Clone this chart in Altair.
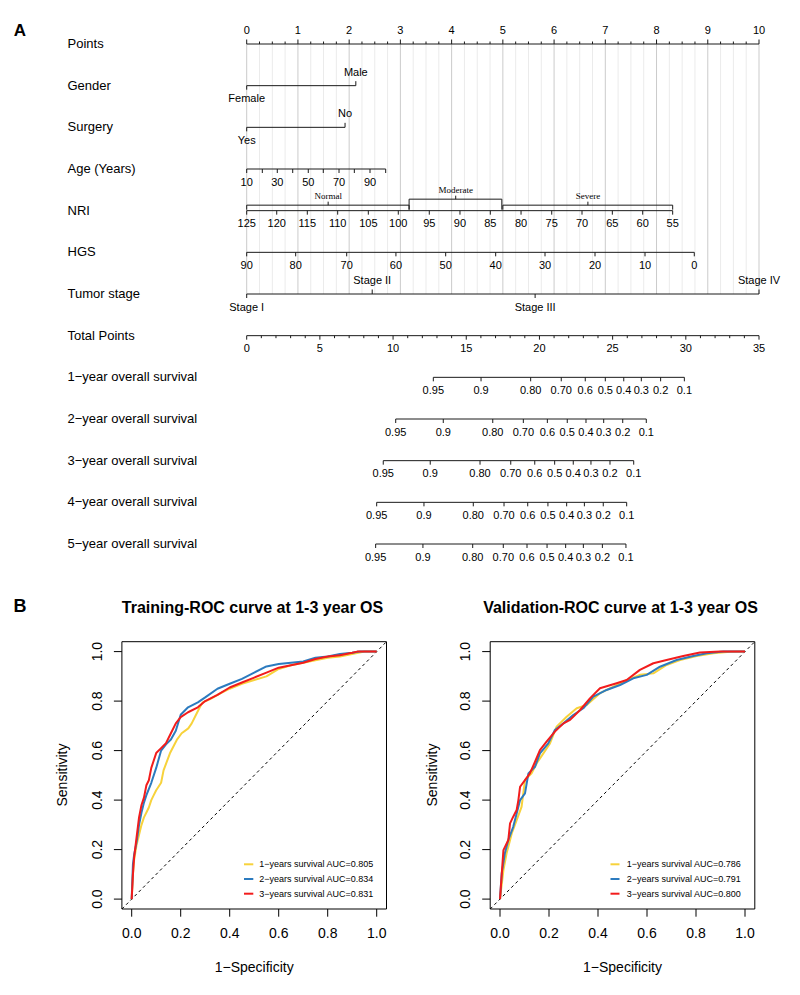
import altair as alt
import pandas as pd

SANS = "Liberation Sans, Arial, Helvetica, sans-serif"
SERIF = "Liberation Serif, Times New Roman, serif"
INK = "#1a1a1a"

# ======================= Panel A : nomogram values =======================
row_names = ["Points", "Gender", "Surgery", "Age (Years)", "NRI", "HGS", "Tumor stage",
             "Total Points", "1−year overall survival", "2−year overall survival",
             "3−year overall survival", "4−year overall survival", "5−year overall survival"]

points_ticks = [i / 4 for i in range(41)]          # axis ticks 0 .. 10 every 0.25
gender_levels = ["Female", "Male"]
gender_pts = [0.0, 2.13]
gender_side = ["down", "up"]
surgery_levels = ["Yes", "No"]
surgery_pts = [0.0, 1.92]
surgery_side = ["down", "up"]
age_values = [10, 20, 30, 40, 50, 60, 70, 80, 90, 100]
age_pts = [0.0, 0.305, 0.597, 0.898, 1.202, 1.495, 1.802, 2.101, 2.407, 2.713]
age_labelled = [10, 30, 50, 70, 90]
nri_values = [125, 120, 115, 110, 105, 100, 95, 90, 85, 80, 75, 70, 65, 60, 55]
nri_pts = [0.0, 0.586, 1.183, 1.776, 2.374, 2.959, 3.564, 4.163, 4.755, 5.355,
           5.954, 6.545, 7.137, 7.730, 8.315]
nri_groups = ["Normal", "Moderate", "Severe"]
nri_group_from = [0.0, 3.17, 5.00]
nri_group_to = [3.17, 4.98, 8.315]
nri_group_mid = [1.59, 4.08, 6.66]
hgs_values = [90, 80, 70, 60, 50, 40, 30, 20, 10, 0]
hgs_pts = [0.0, 0.956, 1.952, 2.913, 3.884, 4.860, 5.823, 6.799, 7.775, 8.737]
stage_levels = ["Stage I", "Stage II", "Stage III", "Stage IV"]
stage_pts = [0.0, 2.45, 5.63, 10.0]
stage_side = ["down", "up", "down", "up"]

total_ticks = list(range(36))
total_labelled = [0, 5, 10, 15, 20, 25, 30, 35]
surv_labels = ["0.95", "0.9", "0.80", "0.70", "0.6", "0.5", "0.4", "0.3", "0.2", "0.1"]
surv_1y = [12.75, 16.01, 19.40, 21.49, 23.13, 24.50, 25.76, 26.96, 28.28, 29.90]
surv_2y = [10.18, 13.43, 16.81, 18.90, 20.54, 21.90, 23.18, 24.39, 25.69, 27.30]
surv_3y = [9.33, 12.54, 15.94, 18.04, 19.68, 21.04, 22.31, 23.52, 24.82, 26.44]
surv_4y = [8.88, 12.11, 15.48, 17.58, 19.20, 20.58, 21.86, 23.07, 24.36, 25.96]
surv_5y = [8.81, 12.04, 15.44, 17.53, 19.15, 20.52, 21.79, 23.00, 24.30, 25.91]

# ======================= Panel B : ROC values =======================
series_names = ["1-year", "2-year", "3-year"]
series_colors = ["#F7D23B", "#2C7BBF", "#F21C1C"]

tr1_fpr = [0, 0.005, 0.01, 0.02, 0.03, 0.04, 0.05, 0.06, 0.07, 0.08, 0.09, 0.10, 0.12, 0.13,
           0.156, 0.184, 0.204, 0.231, 0.245, 0.265, 0.279, 0.29, 0.32, 0.36, 0.40, 0.45,
           0.50, 0.55, 0.60, 0.65, 0.70, 0.75, 0.80, 0.85, 0.90, 0.95, 1.0]
tr1_tpr = [0, 0.10, 0.16, 0.22, 0.26, 0.30, 0.33, 0.35, 0.37, 0.40, 0.42, 0.44, 0.47, 0.52,
           0.589, 0.643, 0.67, 0.69, 0.71, 0.75, 0.777, 0.795, 0.808, 0.83, 0.85, 0.87,
           0.885, 0.90, 0.93, 0.945, 0.955, 0.965, 0.975, 0.98, 0.99, 1.0, 1.0]
tr2_fpr = [0, 0.005, 0.01, 0.02, 0.03, 0.04, 0.05, 0.06, 0.08, 0.10, 0.12, 0.14, 0.16, 0.18,
           0.20, 0.23, 0.27, 0.30, 0.35, 0.40, 0.45, 0.50, 0.55, 0.60, 0.65, 0.70, 0.75,
           0.80, 0.85, 0.90, 0.93, 1.0]
tr2_tpr = [0, 0.14, 0.18, 0.23, 0.30, 0.35, 0.39, 0.42, 0.47, 0.53, 0.60, 0.625, 0.645, 0.68,
           0.745, 0.775, 0.795, 0.815, 0.85, 0.87, 0.89, 0.915, 0.94, 0.95, 0.955, 0.96,
           0.975, 0.98, 0.99, 0.995, 1.0, 1.0]
tr3_fpr = [0, 0.005, 0.01, 0.02, 0.03, 0.04, 0.05, 0.06, 0.07, 0.08, 0.10, 0.12, 0.14, 0.16,
           0.18, 0.20, 0.23, 0.27, 0.30, 0.35, 0.40, 0.45, 0.50, 0.55, 0.60, 0.65, 0.70,
           0.75, 0.80, 0.85, 0.90, 0.92, 1.0]
tr3_tpr = [0, 0.10, 0.17, 0.25, 0.33, 0.38, 0.41, 0.46, 0.48, 0.53, 0.59, 0.61, 0.63, 0.67,
           0.71, 0.735, 0.755, 0.775, 0.80, 0.825, 0.855, 0.875, 0.895, 0.915, 0.935, 0.945,
           0.955, 0.97, 0.98, 0.985, 0.995, 1.0, 1.0]

va1_fpr = [0, 0.014, 0.027, 0.048, 0.068, 0.088, 0.102, 0.129, 0.150, 0.177, 0.204, 0.231,
           0.272, 0.313, 0.354, 0.408, 0.463, 0.517, 0.571, 0.626, 0.680, 0.735, 0.803,
           0.871, 0.939, 1.0]
va1_tpr = [0, 0.117, 0.185, 0.265, 0.319, 0.373, 0.481, 0.508, 0.549, 0.589, 0.629, 0.697,
           0.737, 0.771, 0.784, 0.832, 0.858, 0.885, 0.906, 0.912, 0.946, 0.966, 0.982,
           0.993, 0.999, 1.0]
va2_fpr = [0, 0.007, 0.02, 0.034, 0.054, 0.068, 0.082, 0.102, 0.116, 0.143, 0.163, 0.197,
           0.224, 0.259, 0.299, 0.340, 0.381, 0.435, 0.490, 0.544, 0.599, 0.653, 0.721,
           0.789, 0.844, 0.912, 1.0]
va2_tpr = [0, 0.104, 0.185, 0.239, 0.292, 0.346, 0.40, 0.427, 0.508, 0.535, 0.589, 0.629,
           0.683, 0.71, 0.744, 0.771, 0.818, 0.845, 0.865, 0.892, 0.906, 0.939, 0.966,
           0.982, 0.993, 1.0, 1.0]
va3_fpr = [0, 0.007, 0.014, 0.034, 0.041, 0.054, 0.068, 0.075, 0.082, 0.102, 0.122, 0.143,
           0.163, 0.190, 0.224, 0.259, 0.286, 0.327, 0.367, 0.408, 0.476, 0.517, 0.571,
           0.626, 0.680, 0.748, 0.816, 0.898, 1.0]
va3_tpr = [0, 0.10, 0.198, 0.239, 0.306, 0.333, 0.36, 0.40, 0.454, 0.481, 0.508, 0.555,
           0.602, 0.636, 0.677, 0.71, 0.724, 0.764, 0.811, 0.852, 0.872, 0.885, 0.926,
           0.953, 0.966, 0.982, 0.996, 1.0, 1.0]

train_auc = ["0.805", "0.834", "0.831"]
valid_auc = ["0.786", "0.791", "0.800"]
roc_lim = [-0.04, 1.04]
roc_ticks = [0.0, 0.2, 0.4, 0.6, 0.8, 1.0]
roc_tick_labels = ["0.0", "0.2", "0.4", "0.6", "0.8", "1.0"]


# ======================= layout helpers (page px -> chart px) =======================
def px(v):
    return v - 8


ROW_DOM, ROW_RNG = [0, 12], [px(44), px(544)]
PTS_DOM, TP_DOM = [0, 10], [0, 35]
NOMO_X = [px(246.7), px(759.0)]


def X(field, dom, rng):
    return alt.X(f"{field}:Q", scale=alt.Scale(domain=dom, range=rng, nice=False, zero=False), axis=None)


def Y(field, dom, rng):
    return alt.Y(f"{field}:Q", scale=alt.Scale(domain=dom, range=rng, nice=False, zero=False), axis=None)


layers = []

# ---------------- Panel A ----------------
grid_df = pd.DataFrame({"x": points_ticks,
                        "major": [float(t).is_integer() for t in points_ticks],
                        "r0": 0, "r1": 6})
for is_major, col in [(False, "#ebebeb"), (True, "#cbcbcb")]:
    layers.append(
        alt.Chart(grid_df[grid_df["major"] == is_major]).mark_rule(color=col, strokeWidth=1).encode(
            x=X("x", PTS_DOM, NOMO_X), y=Y("r0", ROW_DOM, ROW_RNG), y2="r1:Q"))

# tick tables
tA = []  # rows in "points" units
for t in points_ticks:
    maj = float(t).is_integer()
    tA.append(dict(row=0, x=t, label=str(int(t)) if maj else "", side="up", size="major" if maj else "minor"))
for lv, p, s in zip(gender_levels, gender_pts, gender_side):
    tA.append(dict(row=1, x=p, label=lv, side=s, size="major"))
for lv, p, s in zip(surgery_levels, surgery_pts, surgery_side):
    tA.append(dict(row=2, x=p, label=lv, side=s, size="major"))
for v, p in zip(age_values, age_pts):
    tA.append(dict(row=3, x=p, label=str(v) if v in age_labelled else "", side="down", size="major"))
for v, p in zip(nri_values, nri_pts):
    tA.append(dict(row=4, x=p, label=str(v), side="down", size="major"))
for v, p in zip(hgs_values, hgs_pts):
    tA.append(dict(row=5, x=p, label=str(v), side="down", size="major"))
for lv, p, s in zip(stage_levels, stage_pts, stage_side):
    tA.append(dict(row=6, x=p, label=lv, side=s, size="major"))
tA = pd.DataFrame(tA)

tB = []  # rows in "total points" units
for t in total_ticks:
    tB.append(dict(row=7, x=t, label=str(t) if t in total_labelled else "", side="down",
                   size="major" if t in total_labelled else "minor"))
for r, vals in zip([8, 9, 10, 11, 12], [surv_1y, surv_2y, surv_3y, surv_4y, surv_5y]):
    for lab, v in zip(surv_labels, vals):
        tB.append(dict(row=r, x=v, label=lab, side="down", size="major"))
tB = pd.DataFrame(tB)

linesA = pd.DataFrame({"row": [0, 1, 2, 3, 4, 5, 6], "x0": 0.0,
                       "x1": [points_ticks[-1], gender_pts[-1], surgery_pts[-1], age_pts[-1],
                              nri_pts[-1], hgs_pts[-1], stage_pts[-1]]})
linesB = pd.DataFrame({"row": [7, 8, 9, 10, 11, 12],
                       "x0": [total_ticks[0], surv_1y[0], surv_2y[0], surv_3y[0], surv_4y[0], surv_5y[0]],
                       "x1": [total_ticks[-1], surv_1y[-1], surv_2y[-1], surv_3y[-1], surv_4y[-1], surv_5y[-1]]})

for lines, ticks, dom in [(linesA, tA, PTS_DOM), (linesB, tB, TP_DOM)]:
    layers.append(alt.Chart(lines).mark_rule(color=INK, strokeWidth=1).encode(
        x=X("x0", dom, NOMO_X), x2="x1:Q", y=Y("row", ROW_DOM, ROW_RNG)))
    for side, size, length in [("up", "major", -4.5), ("up", "minor", -2.5),
                               ("down", "major", 4.0), ("down", "minor", 2.5)]:
        sub = ticks[(ticks["side"] == side) & (ticks["size"] == size)]
        if len(sub) == 0:
            continue
        layers.append(alt.Chart(sub).mark_rule(color=INK, strokeWidth=1, y2Offset=length).encode(
            x=X("x", dom, NOMO_X), y=Y("row", ROW_DOM, ROW_RNG), y2="row:Q"))
    for side, dy in [("up", -13.0), ("down", 13.5)]:
        sub = ticks[(ticks["side"] == side) & (ticks["label"] != "")]
        layers.append(alt.Chart(sub).mark_text(font=SANS, fontSize=11, color="black",
                                               baseline="middle", align="center", dy=dy).encode(
            x=X("x", dom, NOMO_X), y=Y("row", ROW_DOM, ROW_RNG), text="label:N"))

# NRI brackets
br = pd.DataFrame({"name": nri_groups, "a": nri_group_from, "b": nri_group_to,
                   "m": nri_group_mid, "row": 4})
for names, off in [(["Normal", "Severe"], 5.5), (["Moderate"], 11.5)]:
    d = br[br["name"].isin(names)]
    layers.append(alt.Chart(d).mark_rule(color=INK, strokeWidth=1, yOffset=-off).encode(
        x=X("a", PTS_DOM, NOMO_X), x2="b:Q", y=Y("row", ROW_DOM, ROW_RNG)))
    layers.append(alt.Chart(d).transform_fold(["a", "b"], as_=["k", "v"]).mark_rule(
        color=INK, strokeWidth=1, yOffset=-off, y2Offset=-1).encode(
        x=X("v", PTS_DOM, NOMO_X), y=Y("row", ROW_DOM, ROW_RNG), y2="row:Q"))
    layers.append(alt.Chart(d).mark_rule(color=INK, strokeWidth=1, yOffset=-off, y2Offset=-off - 3.5).encode(
        x=X("m", PTS_DOM, NOMO_X), y=Y("row", ROW_DOM, ROW_RNG), y2="row:Q"))
    layers.append(alt.Chart(d).mark_text(font=SERIF, fontSize=9, color="black", baseline="middle",
                                         align="center", dy=-off - 9.3).encode(
        x=X("m", PTS_DOM, NOMO_X), y=Y("row", ROW_DOM, ROW_RNG), text="name:N"))

# row names
rows_df = pd.DataFrame({"row": list(range(len(row_names))), "name": row_names})
layers.append(alt.Chart(rows_df).mark_text(font=SANS, fontSize=13, color="black", align="left",
                                           baseline="middle").encode(
    x=alt.value(px(67.5)), y=Y("row", ROW_DOM, ROW_RNG), text="name:N"))

dummy = pd.DataFrame({"d": [0]})


def label(txt, x, y, size, bold=False, angle=0, align="center", baseline="middle", font=SANS):
    kw = dict(text=txt, font=font, fontSize=size, color="black", align=align, baseline=baseline)
    if bold:
        kw["fontWeight"] = "bold"
    if angle:
        kw["angle"] = angle
    return alt.Chart(dummy).mark_text(**kw).encode(x=alt.value(px(x)), y=alt.value(px(y)))


layers.append(label("A", 20, 36, 17, bold=True, baseline="alphabetic"))
layers.append(label("B", 20, 612, 18, bold=True, baseline="alphabetic"))

# ---------------- Panel B ----------------
ROC_Y = [px(909.0), px(641.7)]
panels = [
    dict(title="Training-ROC curve at 1-3 year OS", xr=[px(121.9), px(386.5)],
         curves=[(tr1_fpr, tr1_tpr), (tr2_fpr, tr2_tpr), (tr3_fpr, tr3_tpr)], auc=train_auc,
         title_x=252.5, ylab_x=97.5, ytitle_x=63.3, leg_line=(244.0, 253.3), leg_text=259.3),
    dict(title="Validation-ROC curve at 1-3 year OS", xr=[px(490.2), px(754.8)],
         curves=[(va1_fpr, va1_tpr), (va2_fpr, va2_tpr), (va3_fpr, va3_tpr)], auc=valid_auc,
         title_x=620.5, ylab_x=465.5, ytitle_x=432.5, leg_line=(610.5, 619.5), leg_text=626.7),
]
col_scale = alt.Scale(domain=series_names, range=series_colors)

for P in panels:
    xr = P["xr"]
    box = pd.DataFrame({"x0": [roc_lim[0]], "x1": [roc_lim[1]], "y0": [roc_lim[0]], "y1": [roc_lim[1]]})
    diag = pd.DataFrame({"fpr": roc_lim, "tpr": roc_lim})
    layers.append(alt.Chart(diag).mark_line(color="black", strokeWidth=1, strokeDash=[3, 3]).encode(
        x=X("fpr", roc_lim, xr), y=Y("tpr", roc_lim, ROC_Y)))
    for name, (f, t) in zip(series_names, P["curves"]):
        d = pd.DataFrame({"fpr": f, "tpr": t, "series": name, "i": range(len(f))})
        layers.append(alt.Chart(d).mark_line(strokeWidth=2, strokeJoin="round").encode(
            x=X("fpr", roc_lim, xr), y=Y("tpr", roc_lim, ROC_Y), order="i:Q",
            color=alt.Color("series:N", scale=col_scale, legend=None)))
    layers.append(alt.Chart(box).mark_rect(fill=None, filled=False, stroke="black", strokeWidth=1).encode(
        x=X("x0", roc_lim, xr), x2="x1:Q", y=Y("y0", roc_lim, ROC_Y), y2="y1:Q"))
    tk = pd.DataFrame({"v": roc_ticks, "lab": roc_tick_labels})
    layers.append(alt.Chart(tk).mark_rule(color="black", strokeWidth=1).encode(
        x=X("v", roc_lim, xr), y=alt.value(px(909.0)), y2=alt.value(px(916.7))))
    layers.append(alt.Chart(tk).mark_rule(color="black", strokeWidth=1).encode(
        y=Y("v", roc_lim, ROC_Y), x=alt.value(xr[0]), x2=alt.value(xr[0] - 8)))
    layers.append(alt.Chart(tk).mark_text(font=SANS, fontSize=14, color="black", baseline="middle").encode(
        x=X("v", roc_lim, xr), y=alt.value(px(934.0)), text="lab:N"))
    layers.append(alt.Chart(tk).mark_text(font=SANS, fontSize=14, color="black", baseline="middle",
                                          angle=270).encode(
        y=Y("v", roc_lim, ROC_Y), x=alt.value(px(P["ylab_x"])), text="lab:N"))
    # legend
    leg = pd.DataFrame({"k": [0, 1, 2], "series": series_names,
                        "txt": [f"{i}−years survival AUC={a}" for i, a in zip([1, 2, 3], P["auc"])]})
    LY = [px(864.3), px(893.7)]
    layers.append(alt.Chart(leg).mark_rule(strokeWidth=2).encode(
        x=alt.value(px(P["leg_line"][0])), x2=alt.value(px(P["leg_line"][1])),
        y=Y("k", [0, 2], LY), color=alt.Color("series:N", scale=col_scale, legend=None)))
    layers.append(alt.Chart(leg).mark_text(font=SANS, fontSize=9, color="black", align="left",
                                           baseline="middle").encode(
        x=alt.value(px(P["leg_text"])), y=Y("k", [0, 2], LY), text="txt:N"))
    # titles
    layers.append(label(P["title"], P["title_x"], 613, 16, bold=True, baseline="alphabetic"))
    layers.append(label("1−Specificity", (xr[0] + xr[1]) / 2 + 8, 968.3, 14))
    layers.append(label("Sensitivity", P["ytitle_x"], 775, 14, angle=270))

chart = alt.layer(*layers).resolve_scale(x="independent", y="independent").properties(
    width=784, height=979, padding=0, background="white",
    autosize=alt.AutoSizeParams(type="none"),
).configure_view(stroke=None)

chart.save("out.html", embed_options={"renderer": "svg", "actions": False})
